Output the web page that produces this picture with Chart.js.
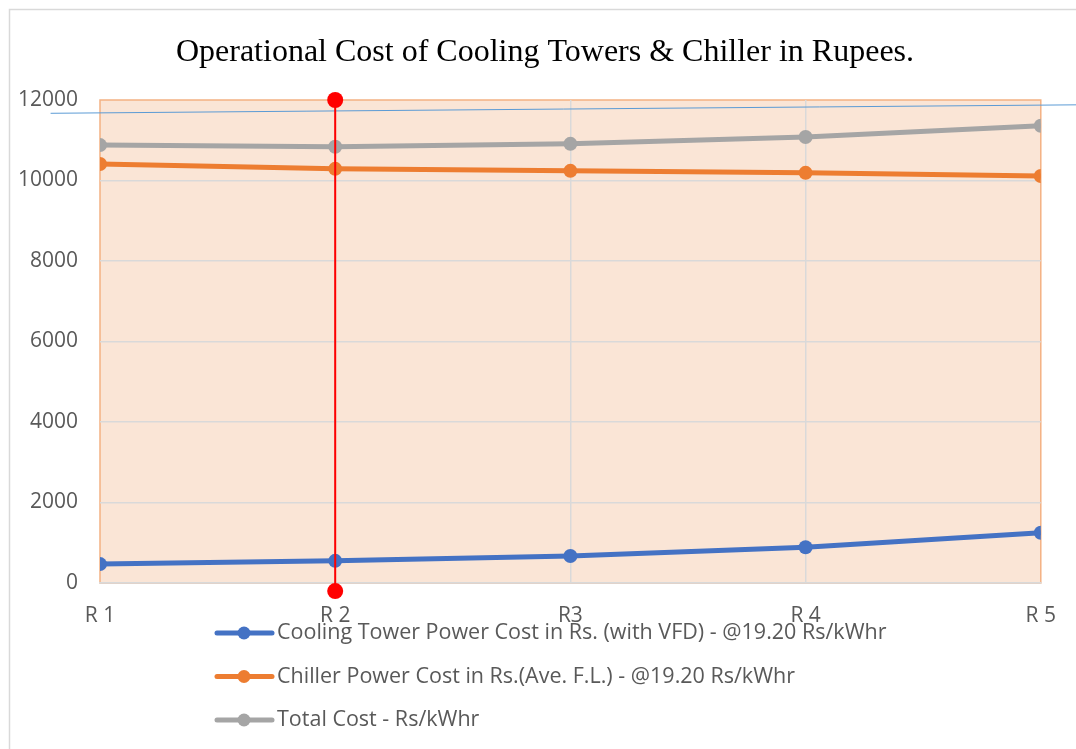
<!DOCTYPE html>
<html>
<head>
<meta charset="utf-8">
<script src="https://cdn.jsdelivr.net/npm/chart.js@4"></script>
<style>
  html, body { margin: 0; padding: 0; background: #fff; }
  #wrap { width: 1076px; height: 749px; }
</style>
</head>
<body>
<div id="wrap"><canvas id="myChart" width="1076" height="749"></canvas></div>
<script>
// categories and series
var categories = ['R 1', 'R 2', 'R3', 'R 4', 'R 5'];
var coolingTowerCost = [470, 550, 670, 890, 1250];
var chillerCost = [10410, 10290, 10240, 10190, 10110];
var totalCost = [10880, 10840, 10910, 11080, 11360];
var yTicks = [0, 2000, 4000, 6000, 8000, 10000, 12000];

// the red marker line at R 2 and the thin blue line near the top
var markerX = [1, 1];
var markerY = [12000, -200];
var thinLineX = [-0.21, 4.15];
var thinLineY = [11670, 11880];

var seriesLabels = [
  'Cooling Tower Power Cost in Rs. (with VFD) - @19.20 Rs/kWhr',
  'Chiller Power Cost in Rs.(Ave. F.L.) - @19.20 Rs/kWhr',
  'Total Cost - Rs/kWhr'
];
var seriesColors = ['#4472C4', '#ED7D31', '#A5A5A5'];

function toPoints(xs, ys) {
  return ys.map(function (v, i) { return { x: xs ? xs[i] : i, y: v }; });
}

function series(i, values) {
  return {
    label: seriesLabels[i],
    data: toPoints(null, values),
    borderColor: seriesColors[i],
    backgroundColor: seriesColors[i],
    borderWidth: 5,
    pointRadius: 7,
    pointBorderWidth: 0,
    tension: 0,
    inLegend: true,
    order: 3 + i
  };
}

// plot area fill + outer frame
var plotBackground = {
  id: 'plotBackground',
  afterLayout: function (chart) {
    // title sits a bit right of the canvas centre in the original
    if (chart.titleBlock) chart.titleBlock.left += 39;
  },
  beforeDraw: function (chart) {
    var c = chart.ctx, a = chart.chartArea;
    c.save();
    c.strokeStyle = '#D9D9D9';
    c.lineWidth = 1.5;
    c.beginPath();
    c.moveTo(9.5, chart.height);
    c.lineTo(9.5, 9.5);
    c.lineTo(chart.width, 9.5);
    c.stroke();
    c.fillStyle = '#FAE5D6';
    c.fillRect(a.left, a.top, a.right - a.left, a.bottom - a.top);
    c.strokeStyle = '#F4B183';
    c.lineWidth = 1.5;
    c.strokeRect(a.left, a.top, a.right - a.left, a.bottom - a.top);
    c.restore();
  }
};

// unclipped datasets may put points outside the plot (red dot below 0)
var freeArea = {
  id: 'freeArea',
  beforeDatasetDraw: function (chart, args) {
    if (chart.data.datasets[args.index].clip === false) {
      this._saved = chart.chartArea;
      chart.chartArea = { left: 0, top: 0, right: chart.width, bottom: chart.height,
                          width: chart.width, height: chart.height };
    }
  },
  afterDatasetDraw: function (chart, args) {
    if (chart.data.datasets[args.index].clip === false && this._saved) {
      chart.chartArea = this._saved;
      this._saved = null;
    }
  }
};

// legend: one item per row, rows left aligned in a centred block
var stackedLegend = {
  id: 'stackedLegend',
  afterDraw: function (chart) {
    var c = chart.ctx;
    var items = chart.data.datasets.filter(function (d) { return d.inLegend; });
    c.save();
    c.font = '21.5px "Open Sans"';
    var maxW = 0;
    items.forEach(function (d) { maxW = Math.max(maxW, c.measureText(d.label).width); });
    var blockW = 60 + maxW;
    var x = Math.round(552 - blockW / 2);
    var y = 633;
    items.forEach(function (d) {
      c.strokeStyle = d.borderColor;
      c.lineWidth = 5;
      c.lineCap = 'round';
      c.beginPath();
      c.moveTo(x, y);
      c.lineTo(x + 55, y);
      c.stroke();
      c.fillStyle = d.borderColor;
      c.beginPath();
      c.arc(x + 27, y, 6.5, 0, Math.PI * 2);
      c.fill();
      c.fillStyle = '#595959';
      c.textBaseline = 'middle';
      c.textAlign = 'left';
      c.fillText(d.label, x + 60, y);
      y += 43.5;
    });
    c.restore();
  }
};

var ctx = document.getElementById('myChart').getContext('2d');
var myChart = new Chart(ctx, {
  type: 'line',
  data: {
    datasets: [
      {
        label: 'marker',
        data: toPoints(markerX, markerY),
        borderColor: '#FF0000',
        backgroundColor: '#FF0000',
        borderWidth: 2,
        pointRadius: 8,
        pointBorderWidth: 0,
        clip: false,
        order: 0
      },
      {
        label: 'thin line',
        data: toPoints(thinLineX, thinLineY),
        borderColor: '#5B9BD5',
        borderWidth: 1,
        pointRadius: 0,
        clip: false,
        order: 1
      },
      series(0, coolingTowerCost),
      series(1, chillerCost),
      series(2, totalCost)
    ]
  },
  options: {
    responsive: false,
    animation: false,
    layout: { padding: { left: 10, right: 35, top: 0, bottom: 0 } },
    plugins: {
      //Chart title
      title: {
        display: true,
        text: 'Operational Cost of Cooling Towers & Chiller in Rupees.',
        color: '#000',
        font: { family: '"Liberation Serif", "Times New Roman", serif', size: 32, weight: 'normal', lineHeight: 1.2 },
        padding: { top: 33, bottom: 28.6 }
      },
      legend: { display: false },
      tooltip: { enabled: false }
    },
    scales: {
      x: {
        type: 'linear',
        min: 0,
        max: categories.length - 1,
        afterBuildTicks: function (scale) {
          scale.ticks = categories.map(function (c, i) { return { value: i }; });
        },
        afterFit: function (scale) { scale.height = 166; },
        ticks: {
          padding: 20,
          color: '#595959',
          font: { family: '"Open Sans"', size: 21 },
          callback: function (v) { return categories[v]; }
        },
        grid: {
          drawTicks: false,
          lineWidth: 1.5,
          color: function (c) {
            return (c.index === 0 || c.index === categories.length - 1) ? 'rgba(0,0,0,0)' : '#D9D9D9';
          }
        },
        border: { display: true, color: '#D9D9D9', width: 1.5 }
      },
      y: {
        min: 0,
        max: 12000,
        afterBuildTicks: function (scale) {
          scale.ticks = yTicks.map(function (v) { return { value: v }; });
        },
        afterFit: function (scale) { scale.width = 90; },
        ticks: {
          padding: 22,
          color: '#595959',
          font: { family: '"Open Sans"', size: 21 },
          callback: function (v) { return String(v); }
        },
        grid: {
          drawTicks: false,
          lineWidth: 1.5,
          color: function (c) {
            return (c.tick && c.tick.value === 12000) ? 'rgba(0,0,0,0)' : '#D9D9D9';
          }
        },
        border: { display: false }
      }
    }
  },
  plugins: [plotBackground, freeArea, stackedLegend]
});
</script>
</body>
</html>
